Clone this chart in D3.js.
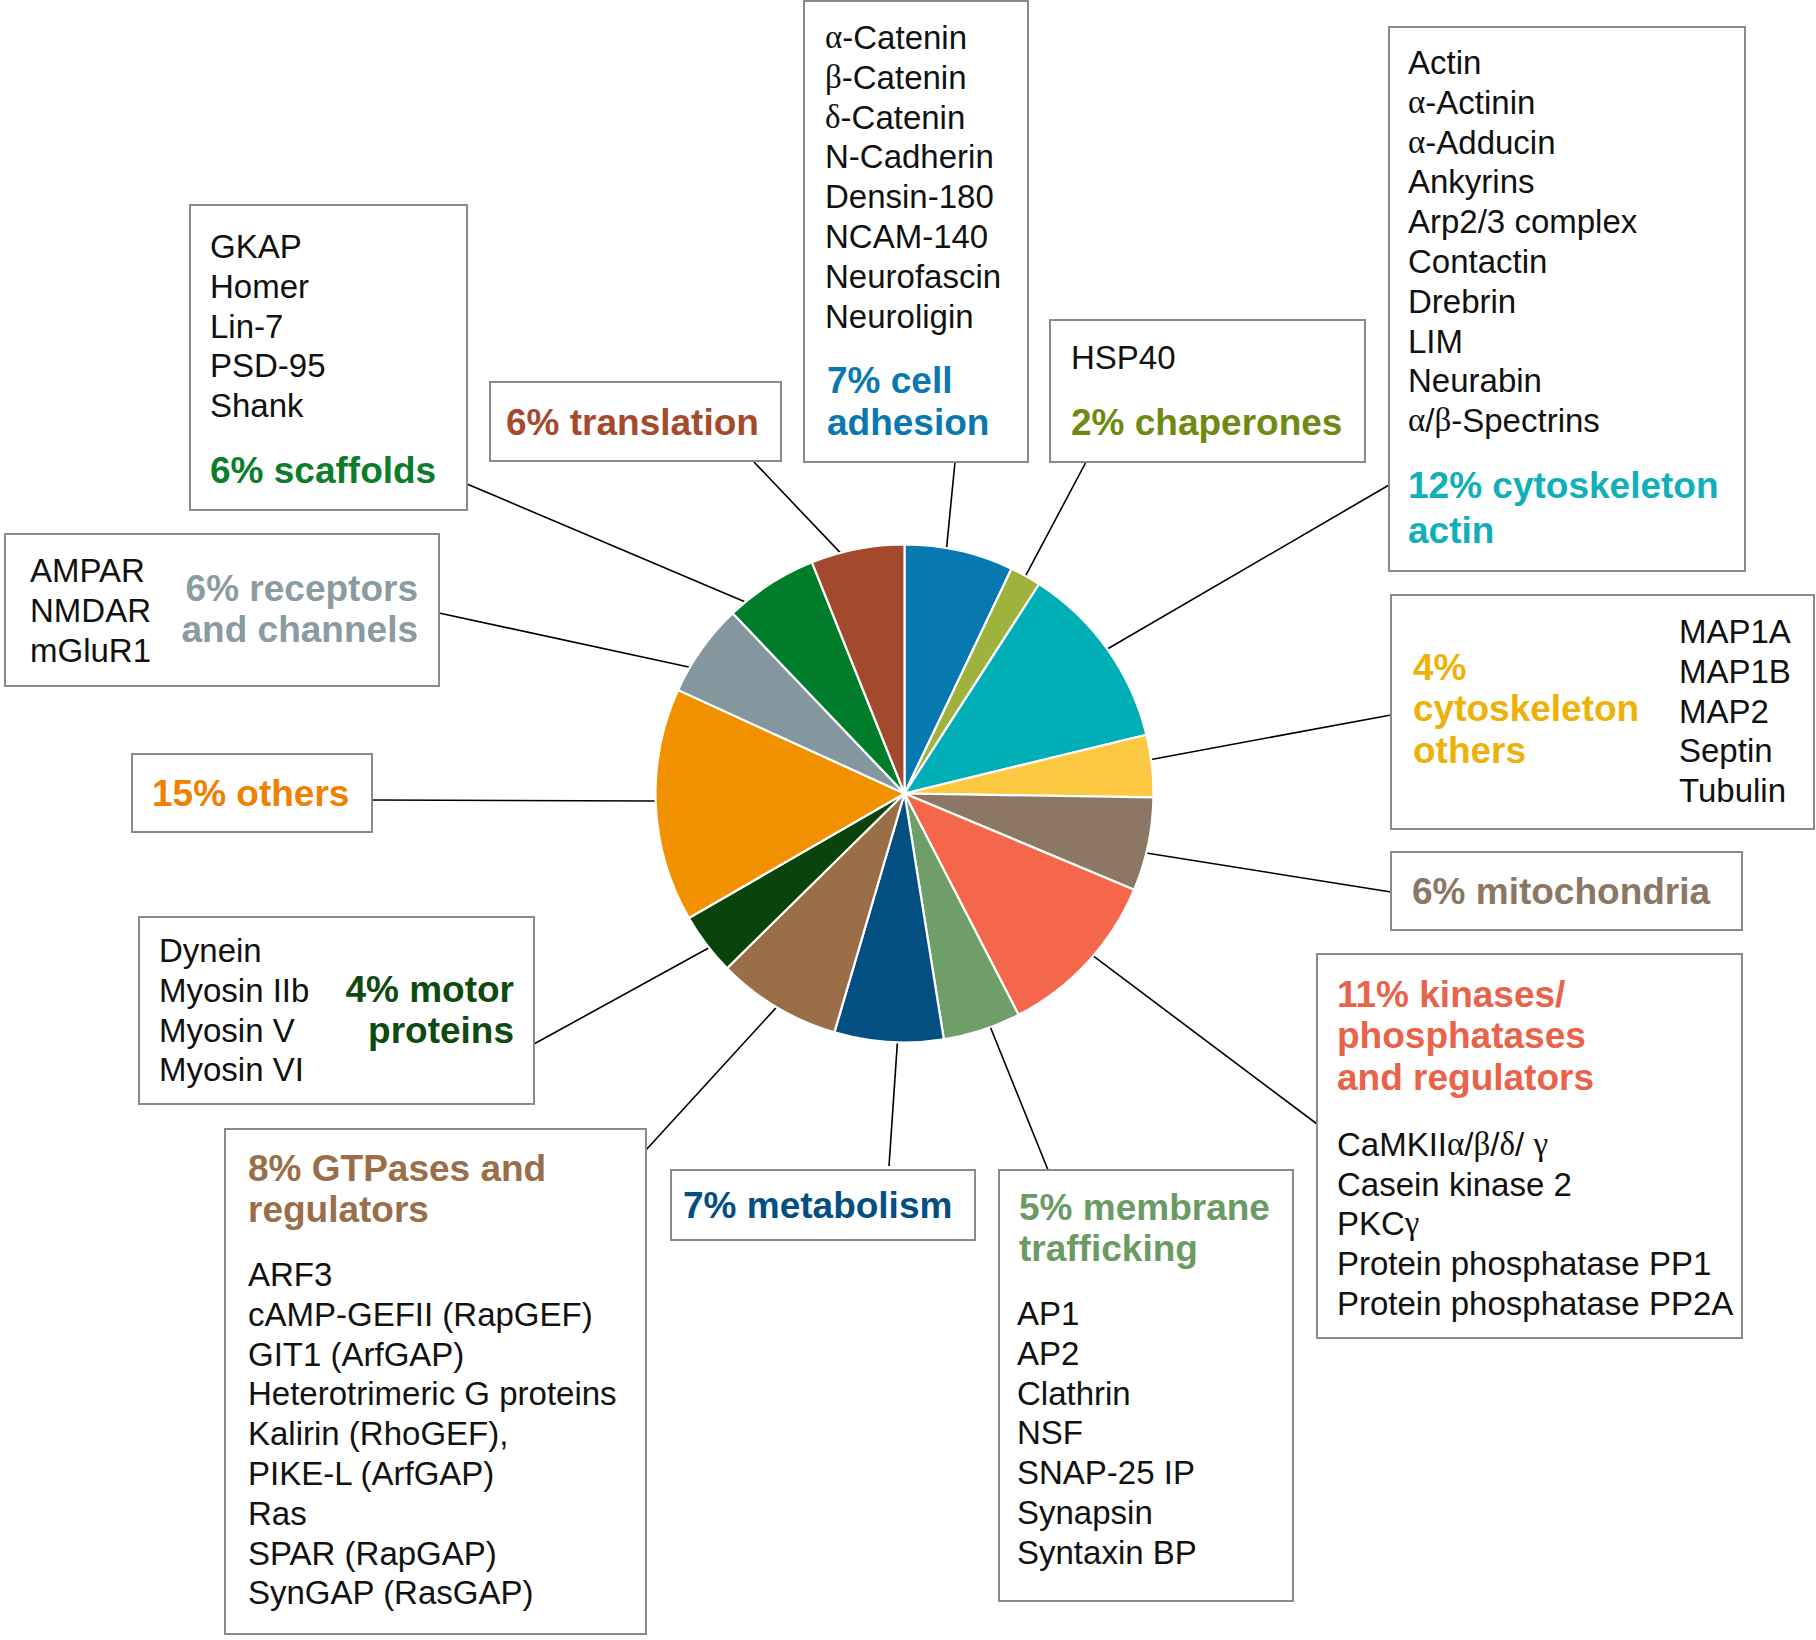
<!DOCTYPE html>
<html>
<head>
<meta charset="utf-8">
<script src="https://cdn.jsdelivr.net/npm/d3@7"></script>
<style>
  html, body { margin: 0; padding: 0; background: #fff; }
  svg { display: block; }
  text { font-family: "Liberation Sans", Arial, Helvetica, sans-serif; }
</style>
</head>
<body>
<svg id="chart" width="1816" height="1640"></svg>
<script>
// Protein classes of the PSD — pie with boxed labels

const categories = [
  "cell adhesion", "chaperones", "cytoskeleton actin", "cytoskeleton others",
  "mitochondria", "kinases/phosphatases and regulators", "membrane trafficking",
  "metabolism", "GTPases and regulators", "motor proteins", "others",
  "receptors and channels", "scaffolds", "translation"
];
const values = [7, 2, 12, 4, 6, 11, 5, 7, 8, 4, 15, 6, 6, 6];

// label text after the percentage, one entry per line
const labelLines = [
  ["cell", "adhesion"], ["chaperones"], ["cytoskeleton", "actin"],
  ["", "cytoskeleton", "others"], ["mitochondria"],
  ["kinases/", "phosphatases", "and regulators"], ["membrane", "trafficking"],
  ["metabolism"], ["GTPases and", "regulators"], ["motor", "proteins"],
  ["others"], ["receptors", "and channels"], ["scaffolds"], ["translation"]
];

const members = [
  ["α-Catenin", "β-Catenin", "δ-Catenin", "N-Cadherin", "Densin-180", "NCAM-140", "Neurofascin", "Neuroligin"],
  ["HSP40"],
  ["Actin", "α-Actinin", "α-Adducin", "Ankyrins", "Arp2/3 complex", "Contactin", "Drebrin", "LIM", "Neurabin", "α/β-Spectrins"],
  ["MAP1A", "MAP1B", "MAP2", "Septin", "Tubulin"],
  [],
  ["CaMKIIα/β/δ/ γ", "Casein kinase 2", "PKCγ", "Protein phosphatase PP1", "Protein phosphatase PP2A"],
  ["AP1", "AP2", "Clathrin", "NSF", "SNAP-25 IP", "Synapsin", "Syntaxin BP"],
  [],
  ["ARF3", "cAMP-GEFII (RapGEF)", "GIT1 (ArfGAP)", "Heterotrimeric G proteins", "Kalirin (RhoGEF),", "PIKE-L (ArfGAP)", "Ras", "SPAR (RapGAP)", "SynGAP (RasGAP)"],
  ["Dynein", "Myosin IIb", "Myosin V", "Myosin VI"],
  [],
  ["AMPAR", "NMDAR", "mGluR1"],
  ["GKAP", "Homer", "Lin-7", "PSD-95", "Shank"],
  []
];

// styles
const sliceColors = [
  "#0879b0", "#9db33d", "#00aeb6", "#fdc942", "#8b7763", "#f4674a", "#6f9e69",
  "#034f82", "#9a6f48", "#0b430d", "#f29100", "#84969e", "#007d2a", "#a34a2e"
];
const textColors = [
  "#0a78b0", "#6f8a12", "#0fb0ba", "#ecb20a", "#8b7763", "#e8634a", "#6b9a64",
  "#034f82", "#9a6e48", "#0f4a10", "#f08000", "#8a9ba2", "#0b7d2b", "#a44a2d"
];

// layout: box [x, y, w, h], title block, member block, leader end, angle tweak
const layout = [
  { box: [804, 1, 224, 461], title: { x: 827, y: 380, lh: 42 }, mem: { x: 825, y: 37, lh: 39.8 }, end: [955, 462], da: -3 },
  { box: [1050, 320, 315, 142], title: { x: 1071, y: 422, lh: 42 }, mem: { x: 1071, y: 357, lh: 39.8 }, end: [1086, 462], da: 0 },
  { box: [1389, 27, 356, 544], title: { x: 1408, y: 485, lh: 45 }, mem: { x: 1408, y: 62, lh: 39.8 }, end: [1389, 485], da: 0 },
  { box: [1391, 595, 423, 234], title: { x: 1413, y: 667, lh: 41.5 }, mem: { x: 1679, y: 631, lh: 39.8 }, end: [1391, 715], da: -1.5 },
  { box: [1391, 852, 351, 78], title: { x: 1412, y: 891, lh: 42 }, mem: null, end: [1391, 892], da: 2 },
  { box: [1317, 954, 425, 384], title: { x: 1337, y: 994, lh: 41.7 }, mem: { x: 1337, y: 1144, lh: 39.7 }, end: [1317, 1124], da: -2 },
  { box: [999, 1170, 294, 431], title: { x: 1019, y: 1207, lh: 41.7 }, mem: { x: 1017, y: 1313, lh: 39.8 }, end: [1048, 1170], da: -2 },
  { box: [671, 1170, 304, 70], title: { x: 683, y: 1205, lh: 42 }, mem: null, end: [889, 1166], da: -2 },
  { box: [225, 1129, 421, 505], title: { x: 248, y: 1168, lh: 41.7 }, mem: { x: 248, y: 1274, lh: 39.8 }, end: [646, 1150], da: 0 },
  { box: [139, 917, 395, 187], title: { x: 514, y: 989, lh: 41.7, anchor: "end" }, mem: { x: 159, y: 950, lh: 39.8 }, end: [534, 1044], da: -1 },
  { box: [132, 754, 240, 78], title: { x: 152, y: 793, lh: 42 }, mem: null, end: [372, 800], da: 1 },
  { box: [5, 534, 434, 152], title: { x: 418, y: 588, lh: 41.7, anchor: "end" }, mem: { x: 30, y: 570, lh: 39.8 }, end: [439, 613], da: -5 },
  { box: [190, 205, 277, 305], title: { x: 210, y: 470, lh: 42 }, mem: { x: 210, y: 246, lh: 39.8 }, end: [467, 484], da: -7 },
  { box: [490, 382, 291, 79], title: { x: 506, y: 422, lh: 42 }, mem: null, end: [754, 462], da: -4 }
];

const svg = d3.select("#chart");
const cx = 904.5, cy = 793.5, R = 249;

const pie = d3.pie().sort(null).value(d => d);
const arcs = pie(values);
const arc = d3.arc().innerRadius(0).outerRadius(R);

// leader lines
const leaders = svg.append("g").attr("class", "leaders");
arcs.forEach((a, i) => {
  const ang = (a.startAngle + a.endAngle) / 2 + layout[i].da * Math.PI / 180;
  leaders.append("line")
    .attr("x1", cx + R * Math.sin(ang))
    .attr("y1", cy - R * Math.cos(ang))
    .attr("x2", layout[i].end[0])
    .attr("y2", layout[i].end[1])
    .attr("stroke", "#000")
    .attr("stroke-width", 1.6);
});

// pie slices
svg.append("g")
  .attr("transform", `translate(${cx},${cy})`)
  .selectAll("path")
  .data(arcs)
  .enter()
  .append("path")
  .attr("d", arc)
  .attr("fill", (d, i) => sliceColors[i])
  .attr("stroke", "#fff")
  .attr("stroke-width", 2.2)
  .attr("stroke-linejoin", "round");

// write one line, Greek letters in a serif face like the original
function writeLine(sel, str) {
  str.split(/([α-ωΑ-Ω]+)/).forEach(part => {
    if (!part) return;
    const t = sel.append("tspan").text(part);
    if (/[α-ωΑ-Ω]/.test(part)) t.style("font-family", "'Liberation Serif', 'DejaVu Serif', serif");
  });
}

// boxes
const boxes = svg.append("g").attr("class", "boxes");
categories.forEach((c, i) => {
  const L = layout[i];
  const g = boxes.append("g");
  g.append("rect")
    .attr("x", L.box[0]).attr("y", L.box[1])
    .attr("width", L.box[2]).attr("height", L.box[3])
    .attr("fill", "#fff")
    .attr("stroke", "#8a8a8a")
    .attr("stroke-width", 2);

  const lines = labelLines[i].map((s, k) => k === 0 ? `${values[i]}% ${s}`.trim() : s);
  lines.forEach((s, k) => {
    g.append("text")
      .attr("x", L.title.x)
      .attr("y", L.title.y + k * L.title.lh)
      .attr("dominant-baseline", "central")
      .attr("text-anchor", L.title.anchor || "start")
      .attr("font-size", 37)
      .attr("font-weight", "bold")
      .attr("fill", textColors[i])
      .text(s);
  });

  if (L.mem) {
    members[i].forEach((s, k) => {
      const t = g.append("text")
        .attr("x", L.mem.x)
        .attr("y", L.mem.y + k * L.mem.lh)
        .attr("dominant-baseline", "central")
        .attr("font-size", 33)
        .attr("fill", "#111");
      writeLine(t, s);
    });
  }
});
</script>
</body>
</html>
